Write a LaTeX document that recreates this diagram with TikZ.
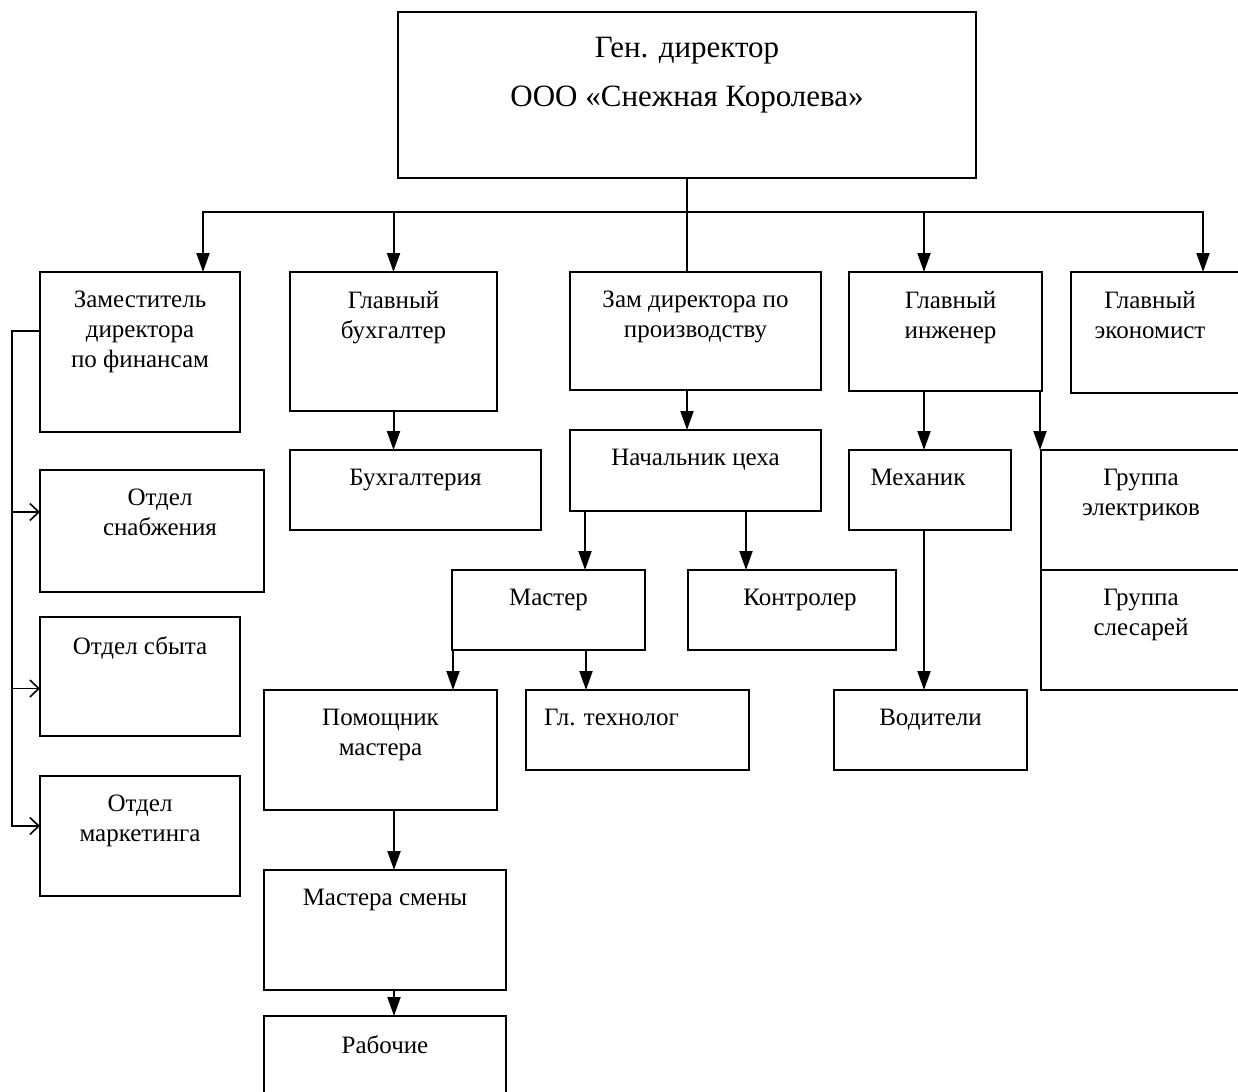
\documentclass[tikz,border=0pt]{standalone}
\usepackage{fontspec}
\setmainfont{Liberation Serif}
\usetikzlibrary{arrows.meta}

\begin{document}
\begin{tikzpicture}[
x=1pt, y=-1pt,
box/.style={draw, line width=2.8pt, anchor=north west, inner sep=0pt, outer sep=0pt},
txt/.style={anchor=north, yshift=-19pt, align=center, inner sep=0pt, font=\fontsize{25}{30}\selectfont},
line/.style={line width=2pt},
arrow/.style={line, -{Triangle[length=19pt, width=13pt]}},
barb/.style={line width=1.6pt, -{Straight Barb[length=9pt, width=17pt]}}
]
\useasboundingbox (0,0) rectangle (1238,1091);

\node[box, minimum width=578pt, minimum height=166pt, label={[txt, yshift=-6pt, font=\fontsize{31}{37}\selectfont]north:{Ген. директор\\[12pt]ООО «Снежная Королева»}}] (gen) at (398,12) {};

\node[box, minimum width=200pt, minimum height=160pt, label={[txt]north:{Заместитель\\директора\\по финансам}}] (zamfin) at (40,272) {};
\node[box, minimum width=207pt, minimum height=139pt, label={[txt]north:{Главный\\бухгалтер}}] (glavbuh) at (290,272) {};
\node[box, minimum width=251pt, minimum height=118pt, label={[txt]north:{Зам директора по\\производству}}] (zamprod) at (570,272) {};
\node[box, minimum width=193pt, minimum height=119pt, label={[txt, xshift=5pt]north:{Главный\\инженер}}] (glavinzh) at (849,272) {};
\node[box, minimum width=180pt, minimum height=121pt, label={[txt, xshift=-11pt]north:{Главный\\экономист}}] (glavecon) at (1071,272) {};

\node[box, minimum width=251pt, minimum height=80pt, label={[txt]north:Бухгалтерия}] (buh) at (290,450) {};
\node[box, minimum width=251pt, minimum height=81pt, label={[txt]north:Начальник цеха}] (nach) at (570,430) {};
\node[box, minimum width=162pt, minimum height=80pt, label={[txt, xshift=-12pt]north:Механик}] (mekh) at (849,450) {};
\node[box, minimum width=210pt, minimum height=120pt, label={[txt, xshift=-5pt]north:{Группа\\электриков}}] (elektr) at (1041,450) {};
\node[box, minimum width=210pt, minimum height=120pt, label={[txt, xshift=-5pt]north:{Группа\\слесарей}}] (slesar) at (1041,570) {};

\node[box, minimum width=193pt, minimum height=80pt, label={[txt]north:Мастер}] (master) at (452,570) {};
\node[box, minimum width=208pt, minimum height=80pt, label={[txt, xshift=8pt]north:Контролер}] (kontr) at (688,570) {};
\node[box, minimum width=233pt, minimum height=120pt, label={[txt]north:{Помощник\\мастера}}] (pomosh) at (264,690) {};
\node[box, minimum width=223pt, minimum height=80pt, label={[txt, xshift=-26pt]north:Гл. технолог}] (tehn) at (526,690) {};
\node[box, minimum width=193pt, minimum height=80pt, label={[txt]north:Водители}] (vod) at (834,690) {};
\node[box, minimum width=242pt, minimum height=120pt, label={[txt]north:Мастера смены}] (smeny) at (264,870) {};
\node[box, minimum width=242pt, minimum height=90pt, label={[txt]north:Рабочие}] (rab) at (264,1016) {};

\node[box, minimum width=224pt, minimum height=122pt, label={[txt, xshift=8pt]north:{Отдел\\снабжения}}] (snabzh) at (40,470) {};
\node[box, minimum width=200pt, minimum height=119pt, label={[txt]north:Отдел сбыта}] (sbyt) at (40,617) {};
\node[box, minimum width=200pt, minimum height=120pt, label={[txt]north:{Отдел\\маркетинга}}] (market) at (40,776) {};

\coordinate (bus) at ([yshift=-34pt]gen.south);
\draw[line] (gen.south) -- (gen.south |- zamprod.north);
\draw[arrow] (bus) -| ([xshift=163pt]zamfin.north west);
\draw[arrow] (bus) -| (glavbuh.north);
\draw[arrow] (bus) -| ([xshift=75pt]glavinzh.north west);
\draw[arrow] (bus) -| ([xshift=132pt]glavecon.north west);

\draw[arrow] (glavbuh.south) -- (glavbuh.south |- buh.north);
\draw[arrow] (gen.south |- zamprod.south) -- (gen.south |- nach.north);
\draw[arrow] ([xshift=15pt]nach.south west) -- ([xshift=15pt]nach.south west |- master.north);
\draw[arrow] ([xshift=-75pt]nach.south east) -- ([xshift=-75pt]nach.south east |- kontr.north);
\draw[arrow] ([xshift=1pt]master.south west) -- ([xshift=1pt]master.south west |- pomosh.north);
\draw[arrow] ([xshift=134pt]master.south west) -- ([xshift=134pt]master.south west |- tehn.north);
\draw[arrow] ([xshift=130pt]pomosh.south west) -- ([xshift=130pt]pomosh.south west |- smeny.north);
\draw[arrow] ([xshift=130pt]smeny.south west) -- ([xshift=130pt]smeny.south west |- rab.north);
\draw[arrow] ([xshift=75pt]glavinzh.south west) -- ([xshift=75pt]glavinzh.south west |- mekh.north);
\draw[arrow] ([xshift=-2pt]glavinzh.south east) -- ([xshift=-2pt]glavinzh.south east |- elektr.north);
\draw[arrow] ([xshift=75pt]mekh.south west) -- ([xshift=75pt]mekh.south west |- vod.north);

\coordinate (side) at ([xshift=-28pt, yshift=-59pt]zamfin.north west);
\coordinate (in1) at ([yshift=19pt]snabzh.west);
\coordinate (in2) at ([yshift=-12pt]sbyt.west);
\draw[barb] ([yshift=-59pt]zamfin.north west) -- (side) |- ([yshift=10pt]market.west);
\draw[barb] (side |- in1) -- (in1);
\draw[barb] (side |- in2) -- (in2);
\end{tikzpicture}
\end{document}
